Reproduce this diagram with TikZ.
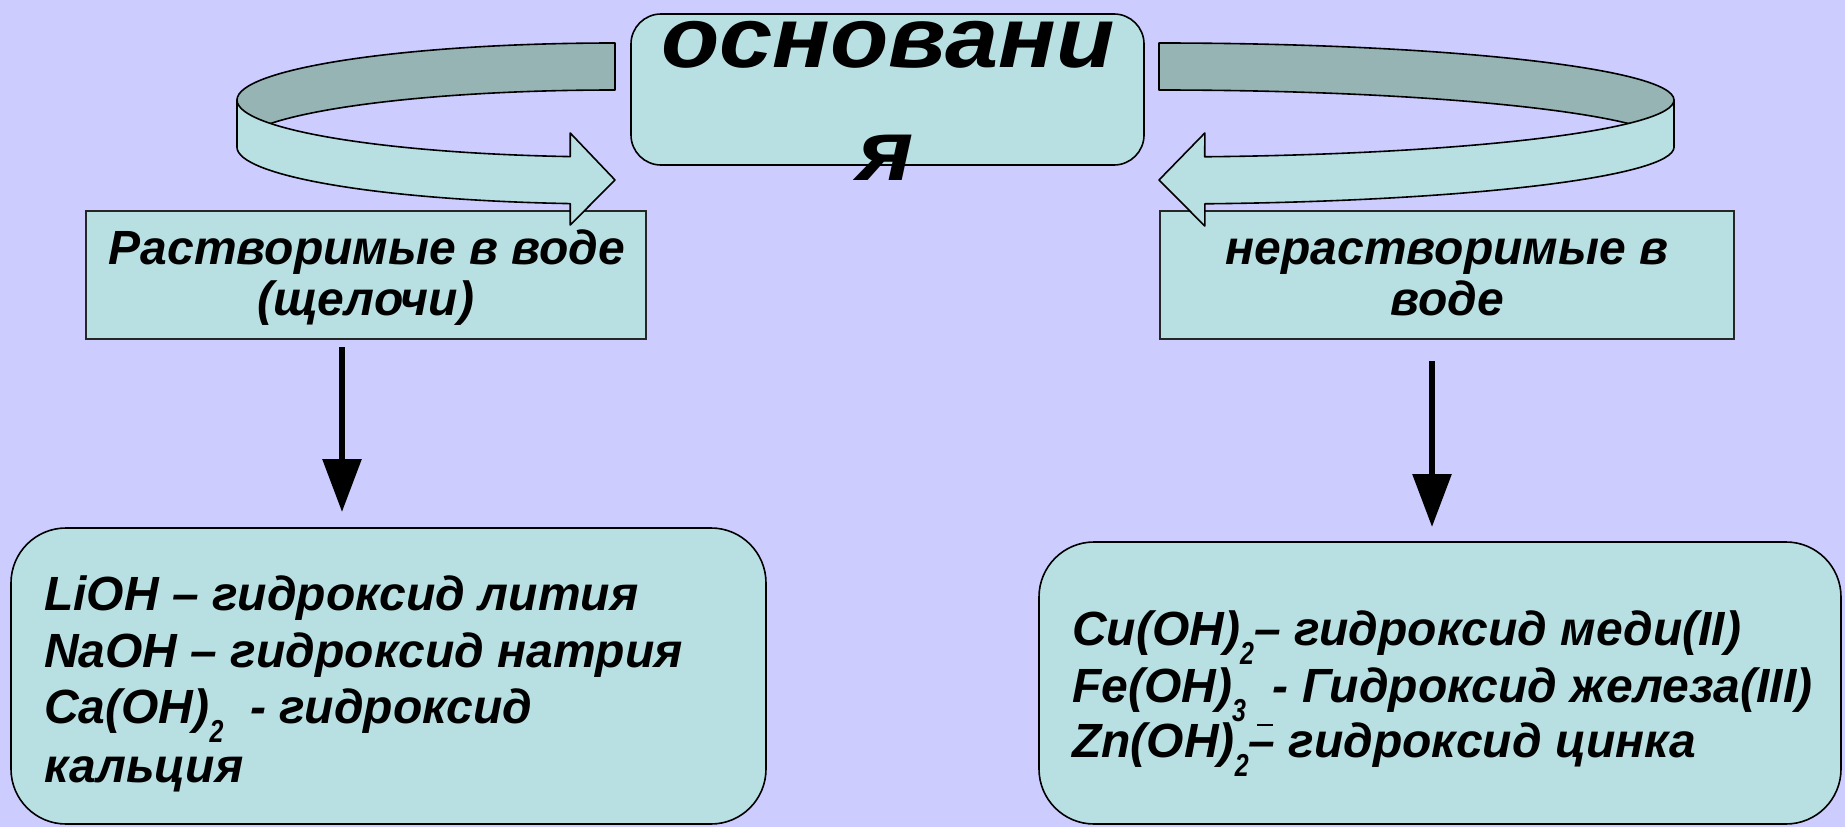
\documentclass[tikz,border=0pt]{standalone}
\usepackage{fontspec}
\usepackage{graphicx}
\setmainfont{Liberation Sans}
\newfontfamily\widefont[FakeStretch=1.11]{Liberation Sans}
\usetikzlibrary{arrows.meta}
\definecolor{bgcol}{RGB}{204,204,255}
\definecolor{boxfill}{RGB}{184,224,226}
\definecolor{backband}{RGB}{150,180,180}
\newcommand{\chsub}[1]{\raisebox{-19pt}{\scalebox{0.52}[0.66]{#1}}}
\tikzset{
  boxbase/.style={draw=black, line width=1.6pt, fill=boxfill, inner sep=0pt, outer sep=0pt},
  topbox/.style={boxbase, rounded corners=30pt},
  midbox/.style={boxbase, draw=black!85, line width=1.4pt},
  listbox/.style={boxbase, rounded corners=55pt},
  ribbon/.style={draw=black, line width=1.6pt, line join=round},
  downarrow/.style={line width=6pt, -{Triangle[length=53pt, width=38pt]}},
  titletext/.style={anchor=base, inner sep=0pt, font=\widefont\fontsize{86}{100}\selectfont\bfseries\itshape},
  midtext/.style={anchor=base, inner sep=0pt, font=\fontsize{48}{52}\selectfont\bfseries\itshape},
  lefttext/.style={anchor=base west, inner sep=0pt, font=\fontsize{48}{52}\selectfont\bfseries\itshape},
  righttext/.style={anchor=base west, inner sep=0pt, font=\fontsize{48}{52}\selectfont\bfseries\itshape}
}
\begin{document}
\begin{tikzpicture}[x=1pt, y=1pt]
\useasboundingbox (0,0) rectangle (1845,-827);
\fill[bgcol] (0,0) rectangle (1845,-827);

% central box
\node[topbox, minimum width=513pt, minimum height=151pt] (top) at (887.5,-89.5) {};

% middle boxes
\node[midbox, minimum width=560pt, minimum height=128pt] (lmid) at (366,-275) {};
\node[midbox, minimum width=574pt, minimum height=128pt] (rmid) at (1447,-275) {};

% bottom boxes
\node[listbox, minimum width=755pt, minimum height=296pt] (lbot) at (388.5,-676) {};
\node[listbox, minimum width=802pt, minimum height=282pt] (rbot) at (1440,-683) {};

% left ribbon arrow
\filldraw[ribbon, fill=backband] (615,-43) arc[start angle=90, end angle=180, x radius=378, y radius=57]
  -- (237,-147) arc[start angle=180, end angle=90, x radius=378, y radius=57] -- cycle;
\filldraw[ribbon, fill=boxfill] (237,-100) arc[start angle=180, end angle=263.2, x radius=378, y radius=57]
  -- (570.2,-133) -- (615,-180) -- (570.2,-225) -- (570.2,-203.6)
  arc[start angle=263.2, end angle=180, x radius=378, y radius=57] -- cycle;

% right ribbon arrow
\filldraw[ribbon, fill=backband] (1159,-43) arc[start angle=90, end angle=0, x radius=515, y radius=57]
  -- (1674,-147) arc[start angle=0, end angle=90, x radius=515, y radius=57] -- cycle;
\filldraw[ribbon, fill=boxfill] (1674,-100) arc[start angle=360, end angle=275.1, x radius=515, y radius=57]
  -- (1204.8,-133) -- (1159,-180) -- (1204.8,-226) -- (1204.8,-203.8)
  arc[start angle=275.1, end angle=360, x radius=515, y radius=57] -- cycle;

% title text
\node[titletext] (t1) at (888,-67) {основани};
\node[titletext] (t2) at (886,-180) {я};

% middle texts
\node[midtext] (l1) at (367,-264) {Растворимые в воде};
\node[midtext] (l2) at (366,-315) {(щелочи)};
\node[midtext] (r1) at (1447,-264) {нерастворимые в};
\node[midtext] (r2) at (1447,-315) {воде};

% arrows
\coordinate (la1) at (342,-347);
\coordinate (la2) at (342,-512);
\coordinate (ra1) at (1432,-361);
\coordinate (ra2) at (1432,-527);
\draw[downarrow] (la1) -- (la2);
\draw[downarrow] (ra1) -- (ra2);

% left list
\node[lefttext] (a1) at (44,-610) {LiOH – гидроксид лития};
\node[lefttext] (a2) at (44,-667) {NaOH – гидроксид натрия};
\node[lefttext] (a3) at (44,-723) {Ca(OH)\chsub{2}\ \ - гидроксид};
\node[lefttext] (a4) at (44,-782) {кальция};

% right list
\node[righttext] (b1) at (1072,-645) {Cu(OH)\chsub{2}– гидроксид меди(II)};
\node[righttext] (b2) at (1072,-702) {Fe(OH)\chsub{3}\ \ - Гидроксид железа(III)};
\node[righttext] (b3) at (1072,-757) {Zn(OH)\chsub{2}– гидроксид цинка};
\draw[line width=2.5pt] (1257,-725) -- (1273,-725);
\end{tikzpicture}
\end{document}
